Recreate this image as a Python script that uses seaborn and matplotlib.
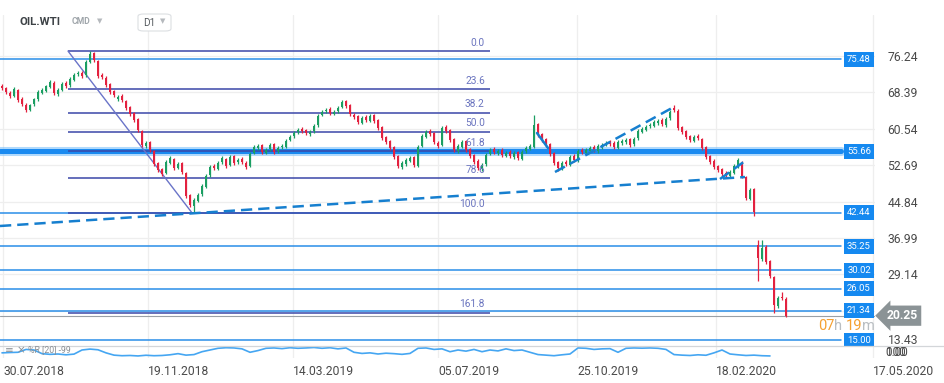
import numpy as np
import pandas as pd
import seaborn as sns
import matplotlib
matplotlib.use("Agg")
import matplotlib.pyplot as plt

# OIL.WTI candles (one bar ~ two sessions)
opens = [69.8, 69.3, 68.2, 67.6, 68.8, 66.9, 65.7, 64.6, 65.8, 66.9,
         68.2, 68.7, 69.5, 70.4, 68.0, 68.9, 70.4, 69.9, 71.0, 72.3,
         72.6, 72.0, 75.0, 76.8, 75.1, 72.1, 71.5, 70.1, 68.6, 66.9,
         67.6, 66.5, 65.2, 63.9, 62.6, 60.0, 56.8, 57.6, 55.7, 53.1,
         51.8, 51.0, 53.2, 54.0, 52.1, 53.1, 51.0, 46.2, 43.9, 45.0,
         46.4, 48.0, 50.5, 52.5, 51.9, 53.3, 54.0, 52.7, 54.6, 53.3,
         54.0, 53.2, 52.5, 55.3, 56.4, 57.0, 55.3, 56.1, 57.2, 55.7,
         56.6, 56.6, 58.1, 58.9, 59.8, 60.4, 60.2, 59.4, 60.0, 61.3,
         63.5, 64.3, 64.8, 63.7, 64.3, 65.2, 66.5, 65.6, 63.5, 63.2,
         61.8, 63.0, 62.2, 63.5, 62.4, 60.9, 58.7, 57.9, 56.6, 54.6,
         52.3, 52.9, 53.6, 54.4, 52.5, 56.8, 58.8, 60.0, 59.6, 57.5,
         57.0, 60.9, 60.2, 58.3, 55.7, 56.6, 57.9, 56.1, 54.8, 53.6,
         51.9, 52.9, 55.1, 56.1, 55.3, 55.9, 54.7, 55.5, 54.4, 55.5,
         54.0, 55.7, 56.2, 56.6, 61.5, 59.4, 58.3, 57.2, 55.3, 53.3,
         51.9, 53.3, 52.7, 54.6, 53.6, 55.9, 55.3, 55.7, 56.6, 55.7,
         56.6, 57.2, 57.6, 57.4, 56.4, 57.5, 57.7, 58.3, 57.2, 58.5,
         59.8, 60.3, 61.1, 61.1, 61.8, 62.4, 61.3, 62.8, 64.9, 64.4,
         60.9, 60.0, 58.9, 57.9, 58.9, 58.3, 56.6, 54.6, 53.6, 52.5,
         51.8, 51.0, 50.4, 51.0, 52.3, 53.2, 50.1, 45.4, 47.5, 35.5,
         32.5, 35.0, 32.0, 28.6, 22.4, 24.3, 23.9]
highs = [70.2, 69.6, 68.6, 69.5, 69.0, 67.3, 66.0, 65.9, 67.2, 68.8,
         69.2, 70.0, 71.1, 70.7, 69.2, 70.6, 70.8, 71.6, 72.5, 72.9,
         73.0, 75.3, 77.2, 77.1, 75.4, 72.5, 71.8, 70.4, 68.9, 67.8,
         67.9, 66.8, 65.5, 64.2, 62.9, 60.3, 57.8, 57.9, 56.0, 53.4,
         52.1, 53.8, 54.6, 54.3, 53.3, 53.4, 51.3, 46.5, 45.6, 46.6,
         48.6, 50.7, 52.7, 52.9, 53.5, 54.6, 54.3, 54.8, 54.9, 54.2,
         54.4, 53.5, 55.5, 57.0, 57.2, 57.3, 56.3, 57.4, 57.5, 56.8,
         57.2, 58.3, 59.1, 60.0, 60.6, 60.8, 60.5, 60.2, 61.5, 63.7,
         64.5, 65.0, 65.1, 64.5, 65.4, 66.7, 66.8, 65.9, 63.9, 63.5,
         63.2, 63.4, 63.7, 63.8, 62.7, 61.2, 59.0, 58.2, 56.9, 54.9,
         53.5, 54.2, 54.6, 54.7, 57.0, 59.4, 60.2, 60.4, 59.9, 57.9,
         61.1, 61.3, 60.5, 58.6, 57.2, 58.1, 58.2, 56.4, 55.1, 53.9,
         53.1, 55.3, 56.3, 56.5, 56.1, 56.3, 55.7, 55.9, 55.7, 55.8,
         55.9, 56.8, 57.2, 63.5, 61.8, 59.7, 58.6, 57.5, 55.6, 53.6,
         53.5, 53.7, 54.8, 55.0, 56.1, 56.3, 56.3, 56.8, 57.0, 57.2,
         57.4, 57.8, 58.0, 57.8, 58.1, 58.3, 58.5, 58.6, 58.7, 60.4,
         60.9, 61.3, 61.7, 62.4, 62.6, 62.8, 63.0, 64.5, 65.6, 64.7,
         61.2, 60.3, 59.2, 59.1, 59.3, 58.6, 56.9, 54.9, 53.9, 52.8,
         52.1, 51.4, 51.6, 52.9, 54.2, 53.5, 50.4, 47.7, 47.8, 36.5,
         36.5, 35.4, 32.3, 28.9, 24.5, 25.3, 24.2]
lows = [68.9, 68.0, 67.2, 67.3, 66.3, 65.5, 64.2, 64.3, 65.5, 66.6,
        67.9, 68.4, 69.2, 67.8, 67.6, 68.6, 69.3, 69.6, 70.7, 71.9,
        71.5, 71.7, 74.6, 74.9, 71.5, 71.3, 69.5, 68.0, 67.4, 66.5,
        66.3, 64.6, 63.3, 62.0, 59.8, 56.6, 56.4, 55.5, 52.5, 51.2,
        50.4, 50.7, 52.9, 51.7, 51.8, 50.8, 45.6, 43.7, 42.6, 44.7,
        46.1, 47.7, 50.2, 51.7, 51.6, 53.0, 52.1, 52.4, 52.7, 53.0,
        53.0, 51.9, 52.2, 55.0, 56.0, 55.1, 55.0, 55.8, 55.1, 55.4,
        56.2, 56.3, 57.8, 58.6, 59.4, 59.6, 59.2, 59.0, 59.7, 61.0,
        63.2, 63.9, 63.5, 63.4, 64.0, 64.9, 65.0, 63.3, 62.6, 61.6,
        61.5, 62.0, 61.9, 61.8, 60.3, 58.1, 57.3, 56.0, 54.0, 52.1,
        51.9, 52.6, 53.3, 52.3, 52.2, 56.5, 58.5, 59.0, 57.3, 56.4,
        56.7, 59.6, 57.7, 55.5, 55.4, 56.3, 55.5, 54.2, 53.0, 51.6,
        51.5, 52.6, 54.8, 55.1, 54.9, 54.5, 54.4, 54.2, 54.1, 53.8,
        53.7, 55.4, 55.9, 56.3, 58.8, 57.7, 56.6, 54.7, 52.7, 51.5,
        51.6, 52.5, 52.4, 53.4, 53.3, 55.1, 55.0, 55.4, 55.5, 55.4,
        56.2, 56.8, 56.8, 56.2, 56.1, 57.1, 57.3, 56.6, 56.9, 58.2,
        59.5, 60.0, 60.7, 60.8, 61.4, 61.1, 61.0, 62.5, 64.2, 60.3,
        59.4, 58.3, 57.7, 57.6, 58.1, 56.0, 54.0, 53.0, 51.9, 51.2,
        50.4, 50.2, 50.0, 50.7, 52.0, 49.9, 45.2, 45.1, 41.7, 27.8,
        32.1, 31.4, 28.4, 20.8, 22.0, 23.7, 19.9]
closes = [69.3, 68.4, 67.6, 69.1, 66.7, 65.9, 64.6, 65.6, 66.9, 68.4,
          68.9, 69.7, 70.6, 68.2, 68.9, 70.2, 69.7, 71.2, 72.1, 72.5,
          71.9, 74.9, 76.6, 75.3, 71.9, 71.7, 69.9, 68.4, 67.8, 67.4,
          66.7, 65.0, 63.7, 62.4, 60.2, 57.0, 57.4, 55.9, 52.9, 51.6,
          50.8, 53.4, 54.2, 52.1, 52.9, 51.2, 46.0, 44.1, 45.2, 46.2,
          48.2, 50.3, 52.3, 52.1, 53.1, 54.2, 52.5, 54.4, 53.1, 53.8,
          53.4, 52.3, 55.1, 56.6, 56.8, 55.5, 55.9, 57.0, 55.5, 56.4,
          56.8, 57.9, 58.7, 59.6, 60.2, 60.0, 59.6, 59.8, 61.1, 63.3,
          64.1, 64.6, 63.9, 64.1, 65.0, 66.3, 65.4, 63.7, 63.0, 62.0,
          62.8, 62.4, 63.3, 62.2, 60.7, 58.5, 57.7, 56.4, 54.4, 52.5,
          53.1, 53.8, 54.2, 52.7, 56.6, 59.0, 59.8, 59.4, 57.7, 56.8,
          60.7, 60.0, 58.1, 55.9, 56.8, 57.7, 55.9, 54.6, 53.4, 52.1,
          52.7, 54.9, 55.9, 55.5, 55.7, 54.9, 55.3, 54.6, 55.3, 54.2,
          55.5, 56.4, 56.8, 61.3, 59.2, 58.1, 57.0, 55.1, 53.1, 52.1,
          53.1, 52.9, 54.4, 53.8, 55.7, 55.5, 55.9, 56.4, 55.9, 56.8,
          57.0, 57.4, 57.2, 56.6, 57.7, 57.9, 58.1, 57.0, 58.3, 60.0,
          60.5, 60.9, 61.3, 62.0, 62.2, 61.5, 62.6, 64.1, 64.6, 60.7,
          59.8, 58.7, 58.1, 58.7, 58.5, 56.4, 54.4, 53.4, 52.3, 51.6,
          50.8, 50.6, 51.2, 52.5, 53.8, 50.3, 45.6, 47.3, 42.6, 32.7,
          34.8, 31.8, 28.8, 22.6, 24.1, 24.1, 20.25]

# Williams %R (20), one value every second bar
wr_values = [-55, -52, -50, -25, -30, -62, -68, -65, -72, -66,
             -30, -22, -28, -55, -75, -80, -78, -82, -76, -80,
             -78, -72, -62, -75, -70, -45, -30, -15, -10, -12,
             -20, -50, -35, -15, -12, -18, -10, -15, -12, -8,
             -15, -10, -20, -12, -50, -60, -55, -65, -58, -62,
             -68, -60, -15, -12, -25, -20, -45, -30, -40, -25,
             -45, -30, -38, -20, -35, -30, -50, -70, -75, -80,
             -72, -65, -12, -15, -25, -20, -18, -50, -15, -12,
             -14, -12, -15, -25, -70, -75, -78, -72, -76, -55,
             -30, -65, -72, -78, -75, -80, -82]

price_ticks = [76.24, 68.39, 60.54, 52.69, 44.84, 36.99, 29.14, 21.29, 13.43]
date_labels = ["30.07.2018", "19.11.2018", "14.03.2019", "05.07.2019",
               "25.10.2019", "18.02.2020", "17.05.2020"]
date_pos = [0.25, 36.5, 72.75, 109, 143.75, 178.5, 217.75]

level_prices = [75.48, 55.66, 42.44, 35.25, 30.02, 26.05, 21.34, 15.00]
fib_names = ["0.0", "23.6", "38.2", "50.0", "61.8", "78.6", "100.0", "161.8"]
fib_prices = [77.25, 69.03, 63.94, 59.83, 55.71, 49.86, 42.40, 20.86]
fib_start, fib_end = 16.5, 122
fib_swing_x = [16.5, 47.5]
fib_swing_y = [77.25, 42.40]

trend_dashed = [(-0.5, 39.57, 185.75, 50.12),
                (138.25, 51.20, 167.5, 64.99),
                (179.5, 49.69, 185.75, 53.57)]
trend_solid = [(133.75, 59.60, 136.5, 56.37)]
last_price = 20.25

UP = "#1b9e62"
DOWN = "#e3213f"
LEVEL = "#2a8ee8"
BOX = "#1589f0"
FIB = "#3a47a8"
FIB_TXT = "#6a74bf"
TREND = "#167fcf"
TXT = "#4a4a4a"

sns.set_theme(style="white")
plt.rcParams["font.family"] = ["Roboto", "DejaVu Sans"]

W, H = 945, 383
fig = plt.figure(figsize=(W / 100, H / 100), dpi=100)
fig.patch.set_facecolor("white")

# main price panel: pixel rows 15..348, columns 0..875
ax = fig.add_axes([0, 1 - 348 / H, 875 / W, (348 - 15) / H])
ax.set_xlim(-0.5, 218.25)
ax.set_ylim(13.29, 85.02)
for s in ax.spines.values():
    s.set_visible(False)

ax.set_yticks(price_ticks)
ax.set_yticklabels([f"{t:.2f}" for t in price_ticks])
ax.yaxis.tick_right()
ax.tick_params(axis="y", length=0, pad=9, labelsize=8.7, labelcolor=TXT)
ax.get_yticklabels()[-1].set_va("bottom")
ax.set_xticks(date_pos)
ax.tick_params(axis="x", length=0, labelbottom=False)
ax.grid(True, color="#eeeeee", lw=0.9, zorder=0)
ax.set_axisbelow(True)

# horizontal levels
for p in level_prices:
    if p == 55.66:
        ax.axhline(p, xmax=841 / 875, color="#7cc0fa", lw=6.5, alpha=0.6, zorder=2)
        ax.axhline(p, xmax=841 / 875, color="#1a8af0", lw=3.6, zorder=2)
    else:
        ax.axhline(p, xmax=841 / 875, color=LEVEL, lw=1.1, zorder=2)
    ax.text(859 / 875, p, f"{p:.2f}", transform=ax.get_yaxis_transform(),
            ha="center", va="center", color="white", fontsize=6.8, zorder=6,
            bbox=dict(boxstyle="square,pad=0.32", fc=BOX, ec="none"))

# fibonacci retracement
ax.hlines(fib_prices, fib_start, fib_end, color=FIB, lw=1.1, zorder=2)
for name, p in zip(fib_names, fib_prices):
    ax.annotate(name, (fib_end - 1.3, p), xytext=(0, 2.5), textcoords="offset points",
                ha="right", va="bottom", color=FIB_TXT, fontsize=7.3, zorder=4)
ax.plot(fib_swing_x, fib_swing_y, color="#6a74c8", lw=1.0, zorder=2)

# trend lines
for x0, y0, x1, y1 in trend_dashed:
    ax.plot([x0, x1], [y0, y1], color=TREND, lw=1.8, dashes=(4.5, 2.4),
            solid_capstyle="butt", zorder=4)
for x0, y0, x1, y1 in trend_solid:
    ax.plot([x0, x1], [y0, y1], color=TREND, lw=1.8, zorder=4)

# candles
idx = np.arange(len(closes))
o = np.array(opens)
c = np.array(closes)
colors = np.where(c >= o, UP, DOWN)
ax.vlines(idx, lows, highs, colors=colors, lw=0.9, zorder=3)
ax.bar(idx, np.maximum(np.abs(c - o), 0.15), bottom=np.minimum(o, c), width=0.55,
       color=colors, linewidth=0, zorder=3)

# last price line and box
ax.axhline(last_price, color="#9aa0a6", lw=0.8, zorder=2)
ax.text(1.013, last_price, f"{last_price:.2f}", transform=ax.get_yaxis_transform(),
        ha="left", va="center", color="white", fontsize=8.7, fontweight="bold",
        zorder=10, clip_on=False,
        bbox=dict(boxstyle="larrow,pad=0.3", fc="#8b9396", ec="none"))

# countdown
t1 = ax.text(818 / 875, 18.0, "07", transform=ax.get_yaxis_transform(),
             ha="left", va="center", color="#f5a030", fontsize=10.5, zorder=6)
t2 = ax.annotate("h ", xy=(1, 0), xycoords=t1, va="bottom", color="#b9bec2", fontsize=10.5)
t3 = ax.annotate("19", xy=(1, 0), xycoords=t2, va="bottom", color="#f5a030", fontsize=10.5)
ax.annotate("m", xy=(1, 0), xycoords=t3, va="bottom", color="#b9bec2", fontsize=10.5)

# indicator panel with dates
axr = fig.add_axes([0, 1 - 358 / H, 1, 12 / H])
axr.set_xlim(-0.5, 235.75)
axr.set_ylim(-100, 5)
for s in axr.spines.values():
    s.set_visible(False)
axr.spines["top"].set_visible(True)
axr.spines["top"].set_color("#d3d6d9")
axr.spines["top"].set_linewidth(0.9)
wr_df = pd.DataFrame({"bar": np.arange(len(wr_values)) * 2, "wr": wr_values})
sns.lineplot(data=wr_df, x="bar", y="wr", ax=axr, color="#45a6f2", lw=1.2)
axr.set_xlabel("")
axr.set_ylabel("")
axr.set_yticks([])
axr.set_xticks(date_pos)
axr.set_xticklabels(date_labels)
for lab in axr.get_xticklabels():
    lab.set_ha("left")
axr.tick_params(axis="x", length=0, pad=5, labelsize=8.7, labelcolor=TXT)
axr.grid(True, axis="x", color="#eeeeee", lw=0.9)

fig.text(5 / W, 1 - 350 / H, "\u2261 \u00d7", fontsize=7.5, color="#8a8f94",
         va="center", family="DejaVu Sans")
fig.text(28 / W, 1 - 350 / H, "%R [20] -99", fontsize=6.3, color="#8a8f94", va="center")
fig.text(886 / W, 1 - 352 / H, "100", fontsize=8.5, color=TXT, va="center")
fig.text(885 / W, 1 - 352 / H, "0.00", fontsize=8.5, color=TXT, va="center")

# header
fig.text(20 / W, 1 - 22 / H, "OIL.WTI", fontsize=8.2, fontweight="bold", color="#3d4246", va="center")
fig.text(72 / W, 1 - 22 / H, "CMD", fontsize=6.2, fontweight="bold", color="#a0a6ab", va="center")
fig.text(100 / W, 1 - 21 / H, "\u25bc", fontsize=5, color="#b5b9bd", va="center", ha="center",
         family="DejaVu Sans")
fig.patches.append(matplotlib.patches.FancyBboxPatch(
    (138 / W, 1 - 31 / H), 33 / W, 17 / H, boxstyle="round,pad=0,rounding_size=0.006",
    transform=fig.transFigure, fc="white", ec="#dcdfe2", lw=0.8))
fig.text(143 / W, 1 - 22.5 / H, "D1", fontsize=7.2, color="#555a5e", va="center")
fig.text(163 / W, 1 - 21.5 / H, "\u25bc", fontsize=5, color="#b5b9bd", va="center", ha="center",
         family="DejaVu Sans")

fig.savefig("out.png", dpi=100)
